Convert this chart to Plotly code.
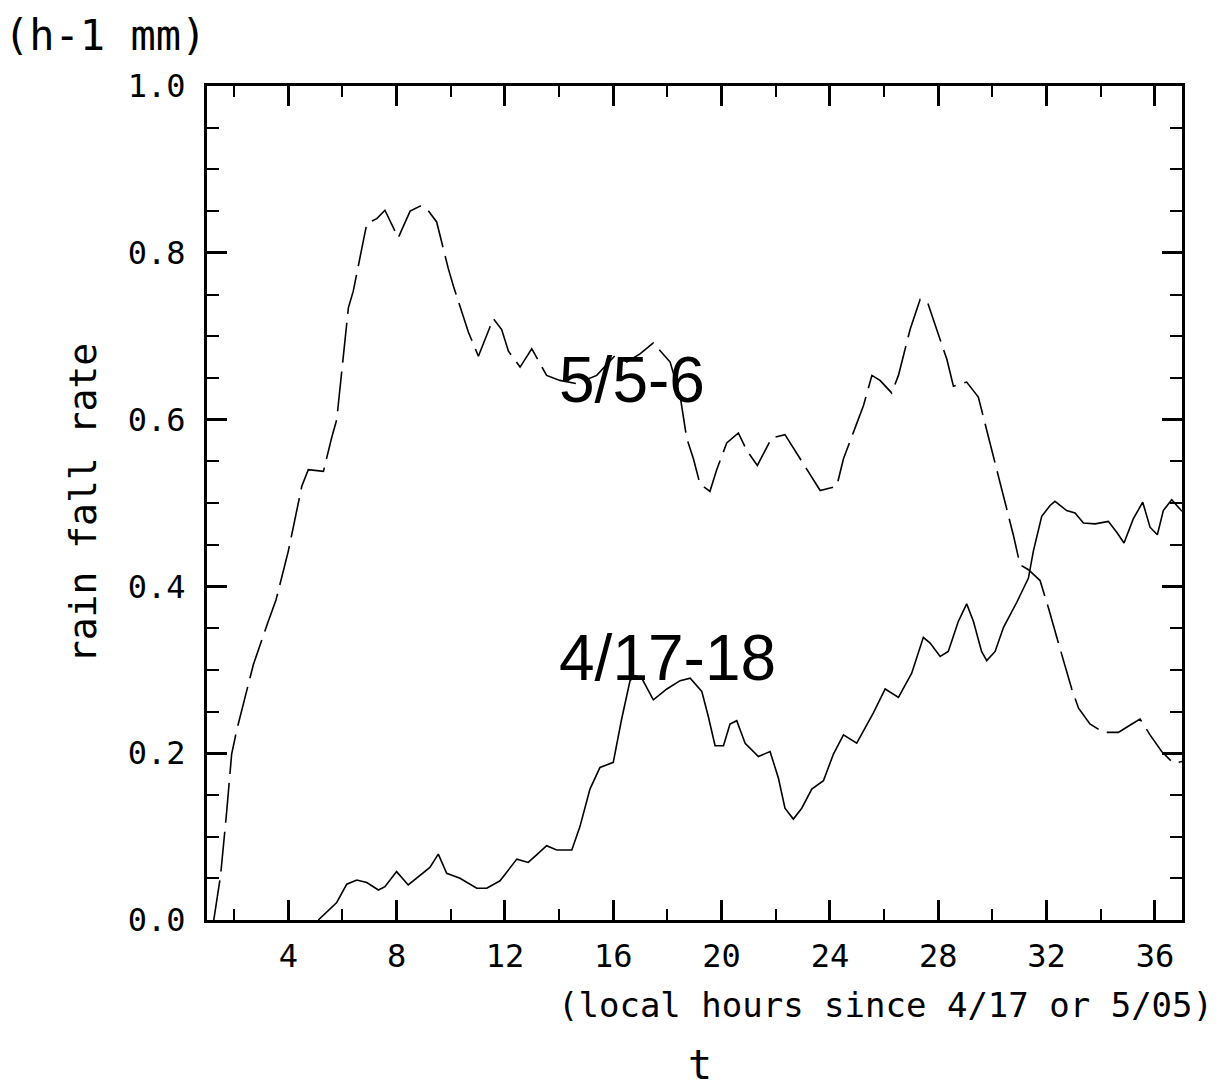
import plotly.graph_objects as go

# 5/5-6 series (dashed)
t_may = [1.25, 1.5, 1.73, 1.91, 2.1, 2.56, 2.71, 3.26, 3.55, 4.0, 4.31, 4.5, 4.74, 5.3, 5.6, 5.79, 5.97,
         6.22, 6.4, 6.77, 6.9, 7.27, 7.57, 8.06, 8.5, 8.87, 9.09, 9.48, 9.91, 10.1, 10.65, 11.02, 11.57,
         11.88, 12.13, 12.56, 12.99, 13.54, 14.03, 14.65, 15.39, 16.13, 16.5, 17.0, 17.48, 18.1, 18.47,
         18.71, 18.96, 19.2, 19.57, 19.82, 20.19, 20.62, 20.93, 21.32, 21.85, 22.34, 22.78, 23.27, 23.64,
         24.25, 24.5, 24.87, 25.24, 25.55, 25.85, 26.28, 26.53, 26.96, 27.33, 27.6, 28.07, 28.32, 28.56,
         29.05, 29.48, 29.91, 30.28, 30.53, 30.77, 31.02, 31.33, 31.76, 32.07, 32.5, 32.93, 33.18, 33.6,
         34.1, 34.65, 35.15, 35.45, 35.82, 36.25, 36.68, 37.0]
v_may = [0.0, 0.053, 0.131, 0.199, 0.228, 0.287, 0.306, 0.358, 0.384, 0.442, 0.488, 0.52, 0.54, 0.538,
         0.578, 0.6, 0.656, 0.734, 0.754, 0.812, 0.835, 0.841, 0.851, 0.818, 0.85, 0.856, 0.854, 0.837,
         0.781, 0.76, 0.705, 0.676, 0.721, 0.708, 0.682, 0.663, 0.685, 0.653, 0.647, 0.643, 0.653, 0.679,
         0.669, 0.679, 0.692, 0.669, 0.628, 0.578, 0.553, 0.523, 0.514, 0.54, 0.572, 0.584, 0.563, 0.545,
         0.578, 0.582, 0.559, 0.533, 0.515, 0.52, 0.553, 0.585, 0.617, 0.653, 0.647, 0.632, 0.653, 0.708,
         0.744, 0.741, 0.695, 0.672, 0.64, 0.645, 0.627, 0.572, 0.527, 0.494, 0.462, 0.426, 0.42, 0.407,
         0.374, 0.325, 0.277, 0.254, 0.235, 0.225, 0.225, 0.235, 0.241, 0.222, 0.202, 0.188, 0.19]

# 4/17-18 series (solid)
t_apr = [5.11, 5.79, 6.16, 6.53, 6.9, 7.33, 7.57, 8.0, 8.43, 8.87, 9.23, 9.54, 9.85, 10.34, 10.96, 11.33,
         11.82, 12.44, 12.86, 13.17, 13.54, 13.91, 14.47, 14.77, 15.14, 15.51, 16.0, 16.31, 16.62, 16.8,
         17.05, 17.48, 17.98, 18.47, 18.84, 19.27, 19.51, 19.76, 20.07, 20.31, 20.56, 20.87, 21.36, 21.79,
         22.1, 22.34, 22.65, 22.96, 23.33, 23.76, 24.13, 24.5, 24.99, 25.6, 26.04, 26.53, 27.02, 27.45,
         27.7, 28.07, 28.37, 28.74, 29.05, 29.3, 29.6, 29.79, 30.1, 30.41, 30.9, 31.33, 31.51, 31.82,
         32.13, 32.31, 32.74, 33.05, 33.36, 33.79, 34.28, 34.59, 34.86, 35.2, 35.55, 35.82, 36.09, 36.31,
         36.62, 37.0]
v_apr = [0.0, 0.021, 0.043, 0.048, 0.045, 0.036, 0.04, 0.058, 0.042, 0.053, 0.063, 0.079, 0.056, 0.05,
         0.038, 0.038, 0.047, 0.073, 0.069, 0.078, 0.089, 0.084, 0.084, 0.112, 0.157, 0.183, 0.189, 0.241,
         0.287, 0.293, 0.29, 0.264, 0.277, 0.287, 0.29, 0.274, 0.244, 0.209, 0.209, 0.235, 0.239, 0.212,
         0.196, 0.202, 0.17, 0.134, 0.121, 0.134, 0.157, 0.167, 0.199, 0.222, 0.212, 0.248, 0.277, 0.267,
         0.296, 0.339, 0.332, 0.316, 0.322, 0.358, 0.379, 0.358, 0.322, 0.311, 0.322, 0.351, 0.381, 0.41,
         0.442, 0.484, 0.497, 0.502, 0.491, 0.488, 0.476, 0.475, 0.478, 0.465, 0.452, 0.481, 0.501, 0.471,
         0.462, 0.491, 0.504, 0.49]

x_ticks = [4, 8, 12, 16, 20, 24, 28, 32, 36]
y_ticks = [0.0, 0.2, 0.4, 0.6, 0.8, 1.0]

series_labels = ["5/5-6", "4/17-18"]

FONT = "DejaVu Sans Mono"

fig = go.Figure()
fig.add_trace(go.Scatter(x=t_may, y=v_may, mode="lines",
                         line=dict(color="black", width=1.6, dash="40px,9px"),
                         showlegend=False))
fig.add_trace(go.Scatter(x=t_apr, y=v_apr, mode="lines",
                         line=dict(color="black", width=1.6),
                         showlegend=False))

axis_common = dict(showline=True, linecolor="black", linewidth=3, mirror="allticks",
                   ticks="inside", tickcolor="black", tickwidth=3, ticklen=20,
                   showgrid=False, zeroline=False,
                   tickfont=dict(family=FONT, size=32, color="black"))

fig.update_xaxes(range=[1, 37], tickvals=x_ticks, ticktext=[str(v) for v in x_ticks],
                 ticklabelstandoff=6,
                 minor=dict(ticks="inside", dtick=2, tick0=0, ticklen=11, tickwidth=2,
                            tickcolor="black", showgrid=False),
                 **axis_common)
fig.update_yaxes(range=[0, 1], tickvals=y_ticks, ticktext=["%.1f" % v for v in y_ticks],
                 ticklabelstandoff=12,
                 minor=dict(ticks="inside", dtick=0.05, tick0=0, ticklen=12, tickwidth=2,
                            tickcolor="black", showgrid=False),
                 **axis_common)

annos = [
    dict(text=series_labels[0], x=13.92, y=0.647, xref="x", yref="y", xanchor="left", yanchor="middle",
         font=dict(family="Liberation Sans", size=64, color="black")),
    dict(text=series_labels[1], x=13.92, y=0.314, xref="x", yref="y", xanchor="left", yanchor="middle",
         font=dict(family="Liberation Sans", size=64, color="black")),
    dict(text="rain fall rate", x=-0.127, y=0.5, xref="paper", yref="paper", textangle=-90,
         xanchor="center", yanchor="middle", font=dict(family=FONT, size=38, color="black")),
    dict(text="(h-1 mm)", x=-0.210, y=1.061, xref="paper", yref="paper",
         xanchor="left", yanchor="middle", font=dict(family=FONT, size=42, color="black")),
    dict(text="(local hours since 4/17 or 5/05)", x=1.034, y=-0.102, xref="paper", yref="paper",
         xanchor="right", yanchor="middle", font=dict(family=FONT, size=34, color="black")),
    dict(text="t", x=0.5056, y=-0.174, xref="paper", yref="paper",
         xanchor="center", yanchor="middle", font=dict(family=FONT, size=40, color="black")),
]
for a in annos:
    a["showarrow"] = False
    fig.add_annotation(**a)

fig.update_layout(width=1218, height=1089, margin=dict(l=207, r=36, t=86, b=169),
                  paper_bgcolor="white", plot_bgcolor="white")

fig.write_html("out.html")
